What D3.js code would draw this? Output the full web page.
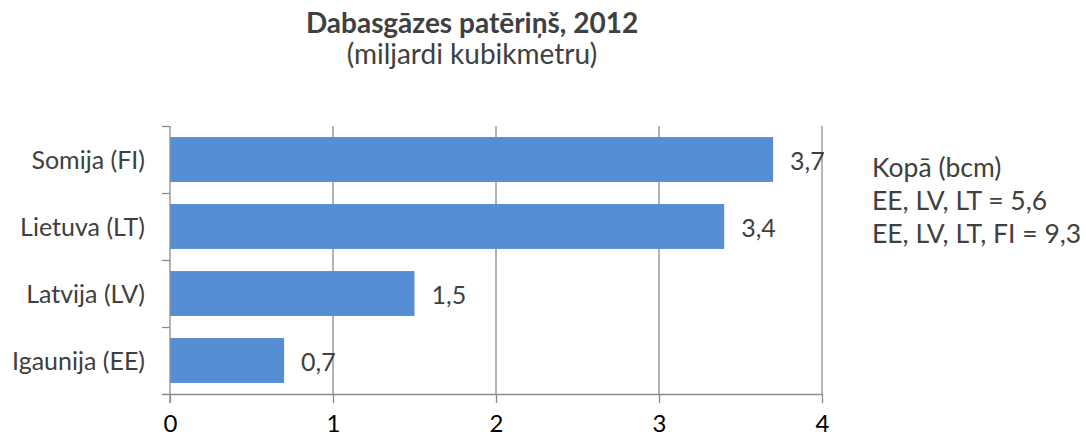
<!DOCTYPE html>
<meta charset="utf-8">
<style>
    body { margin: 0; background: #fff; }
    text { font-family: Lato, "Open Sans", sans-serif; fill: #404040; }
</style>
<svg width="1086" height="438"></svg>
<script src="https://d3js.org/d3.v7.min.js"></script>
<script>
    // data
    const countries = ["Somija (FI)", "Lietuva (LT)", "Latvija (LV)", "Igaunija (EE)"];
    const values = [3.7, 3.4, 1.5, 0.7];
    const xTicks = [0, 1, 2, 3, 4];
    const noteLines = ["Kopā (bcm)", "EE, LV, LT = 5,6", "EE, LV, LT, FI = 9,3"];

    var svg = d3.select("svg"),
        margin = {top: 126, left: 170},
        width = 652,
        height = 268,
        g = svg.append("g").attr("transform", `translate(${margin.left},${margin.top})`);

    let x = d3.scaleLinear().domain([0, 4]).range([0, width]);
    let y = d3.scaleBand().domain(countries).range([0, height]).paddingInner(0.33).paddingOuter(0.165);

    let axisColor = "#8c8c8c";
    let fmt = d => String(d).replace(".", ",");

    // vertical gridlines
    g.append("g")
        .selectAll("line")
        .data(xTicks.slice(1))
        .enter()
        .append("line")
        .attr("x1", d => x(d)).attr("x2", d => x(d))
        .attr("y1", 0).attr("y2", height)
        .attr("stroke", axisColor).attr("stroke-width", 1.3);

    // bars
    g.append("g")
        .selectAll("rect")
        .data(countries)
        .enter()
        .append("rect")
        .attr("x", x(0))
        .attr("y", d => y(d))
        .attr("height", y.bandwidth())
        .attr("width", (d, i) => x(values[i]) - x(0))
        .attr("fill", "#558ED5");

    // bottom axis
    let xAxis = g.append("g")
        .attr("transform", `translate(0,${height})`)
        .call(d3.axisBottom(x).tickValues(xTicks).tickSize(9).tickPadding(12).tickFormat(d3.format("d")));
    xAxis.attr("font-family", null);
    xAxis.select(".domain").attr("stroke", axisColor).attr("stroke-width", 1.3).attr("d", `M-8,0.5H${width}`);
    xAxis.selectAll(".tick line").attr("stroke", axisColor).attr("stroke-width", 1.3);
    xAxis.selectAll("text").style("font-size", "24px").style("fill", "#000");

    // left axis, ticks between categories
    let yAxis = g.append("g");
    yAxis.append("line")
        .attr("x1", 0).attr("x2", 0).attr("y1", 0).attr("y2", height + 9)
        .attr("stroke", axisColor).attr("stroke-width", 1.3);
    yAxis.selectAll(".sep")
        .data(d3.range(countries.length))
        .enter()
        .append("line")
        .attr("x1", -8).attr("x2", 0)
        .attr("y1", i => y.step() * i + 0.5).attr("y2", i => y.step() * i + 0.5)
        .attr("stroke", axisColor).attr("stroke-width", 1.3);
    yAxis.selectAll("text")
        .data(countries)
        .enter()
        .append("text")
        .attr("x", -25)
        .attr("y", d => y(d) + y.bandwidth() / 2)
        .attr("dy", "0.36em")
        .attr("text-anchor", "end")
        .style("font-size", "25px")
        .text(d => d);

    // value labels
    g.append("g")
        .selectAll("text")
        .data(countries)
        .enter()
        .append("text")
        .attr("x", (d, i) => x(values[i]) + 17)
        .attr("y", d => y(d) + y.bandwidth() / 2)
        .attr("dy", "0.4em")
        .style("font-size", "25px")
        .text((d, i) => fmt(values[i]));

    // titles
    svg.append("text")
        .attr("x", 472).attr("y", 33)
        .attr("text-anchor", "middle")
        .style("font-size", "28px").style("font-weight", "bold")
        .text("Dabasgāzes patēriņš, 2012");
    svg.append("text")
        .attr("x", 472).attr("y", 64)
        .attr("text-anchor", "middle")
        .style("font-size", "28px")
        .text("(miljardi kubikmetru)");

    // note on the right
    svg.append("g")
        .selectAll("text")
        .data(noteLines)
        .enter()
        .append("text")
        .attr("x", 872)
        .attr("y", (d, i) => 177 + i * 33)
        .style("font-size", "26.5px")
        .text(d => d);
</script>
